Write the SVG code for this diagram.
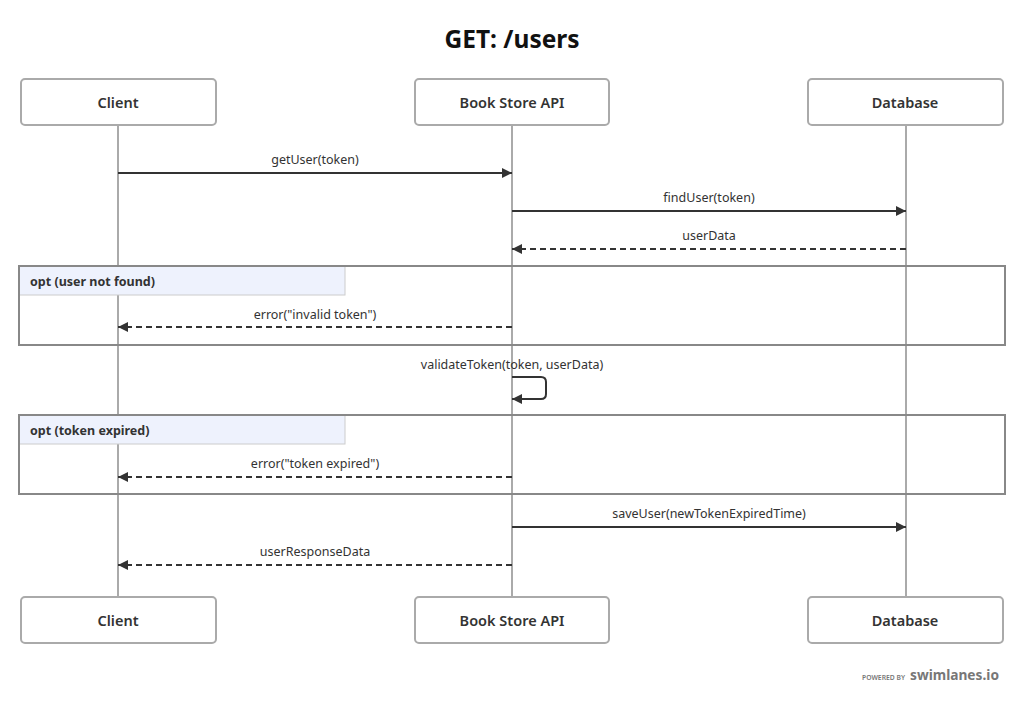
<svg xmlns="http://www.w3.org/2000/svg" width="1024" height="704" viewBox="0 0 1024 704">
<style>
text{font-family:"Source Sans Pro","Noto Sans","Open Sans",sans-serif;fill:#333}
.actor rect{fill:#fff;stroke:#aaa;stroke-width:2}
.actor text{font-size:14.5px;font-weight:600;text-anchor:middle;dominant-baseline:central}
.life{stroke:#aaa;stroke-width:2}
.msg{stroke:#333;stroke-width:2;fill:none}
.dash{stroke-dasharray:6 4}
.lbl{font-size:12.5px;text-anchor:middle}
.frame{fill:none;stroke:#888;stroke-width:2}
.fhead{fill:#eef2fd;stroke:#ccc;stroke-width:1}
.ftxt{font-size:12.5px;font-weight:700;dominant-baseline:central}
</style>
<defs>
<marker id="ah" viewBox="0 0 10 10" refX="10" refY="5" markerWidth="10" markerHeight="10" markerUnits="userSpaceOnUse" orient="auto">
<path d="M0,0 L10,5 L0,10 z" fill="#333"/>
</marker>
</defs>
<rect width="1024" height="704" fill="#fff"/>
<text x="512" y="38" font-size="24.5" font-weight="700" text-anchor="middle" dominant-baseline="central" style="fill:#111">GET: /users</text>

<g id="lifelines">
<line class="life" x1="118" y1="125" x2="118" y2="597"/>
<line class="life" x1="512" y1="125" x2="512" y2="597"/>
<line class="life" x1="906" y1="125" x2="906" y2="597"/>
</g>

<g id="frame1">
<rect class="fhead" x="19" y="266" width="326" height="29"/>
<rect class="frame" x="19" y="266" width="986" height="79"/>
<text class="ftxt" x="30" y="281">opt (user not found)</text>
</g>
<g id="frame2">
<rect class="fhead" x="19" y="415" width="326" height="29"/>
<rect class="frame" x="19" y="415" width="986" height="79"/>
<text class="ftxt" x="30" y="430">opt (token expired)</text>
</g>

<g id="client-top" class="actor"><rect x="21" y="79" width="195" height="46" rx="4"/><text x="118" y="102">Client</text></g>
<g id="api-top" class="actor"><rect x="415" y="79" width="194" height="46" rx="4"/><text x="512" y="102">Book Store API</text></g>
<g id="db-top" class="actor"><rect x="808" y="79" width="195" height="46" rx="4"/><text x="905" y="102">Database</text></g>
<g id="client-bottom" class="actor"><rect x="21" y="597" width="195" height="46" rx="4"/><text x="118" y="620">Client</text></g>
<g id="api-bottom" class="actor"><rect x="415" y="597" width="194" height="46" rx="4"/><text x="512" y="620">Book Store API</text></g>
<g id="db-bottom" class="actor"><rect x="808" y="597" width="195" height="46" rx="4"/><text x="905" y="620">Database</text></g>

<g id="connectors">
<line class="msg" x1="118" y1="173" x2="512" y2="173" marker-end="url(#ah)"/>
<text class="lbl" x="315" y="164">getUser(token)</text>
<line class="msg" x1="512" y1="211" x2="906" y2="211" marker-end="url(#ah)"/>
<text class="lbl" x="709" y="202">findUser(token)</text>
<line class="msg dash" x1="906" y1="249" x2="512" y2="249" marker-end="url(#ah)"/>
<text class="lbl" x="709" y="240">userData</text>
<line class="msg dash" x1="512" y1="327" x2="118" y2="327" marker-end="url(#ah)"/>
<text class="lbl" x="315" y="319">error("invalid token")</text>
<path class="msg" d="M512,377 H541 Q546,377 546,382 V394 Q546,399 541,399 H512" marker-end="url(#ah)"/>
<text class="lbl" x="512" y="369">validateToken(token, userData)</text>
<line class="msg dash" x1="512" y1="477" x2="118" y2="477" marker-end="url(#ah)"/>
<text class="lbl" x="315" y="468">error("token expired")</text>
<line class="msg" x1="512" y1="527" x2="906" y2="527" marker-end="url(#ah)"/>
<text class="lbl" x="709" y="518">saveUser(newTokenExpiredTime)</text>
<line class="msg dash" x1="512" y1="565" x2="118" y2="565" marker-end="url(#ah)"/>
<text class="lbl" x="315" y="556">userResponseData</text>
</g>

<g id="footer">
<text x="862" y="680" font-size="6.5" font-weight="600" textLength="43" lengthAdjust="spacingAndGlyphs" style="fill:#777">POWERED BY</text>
<text x="910" y="680" font-size="15" font-weight="700" textLength="89" lengthAdjust="spacingAndGlyphs" style="fill:#777">swimlanes.io</text>
</g>
</svg>
